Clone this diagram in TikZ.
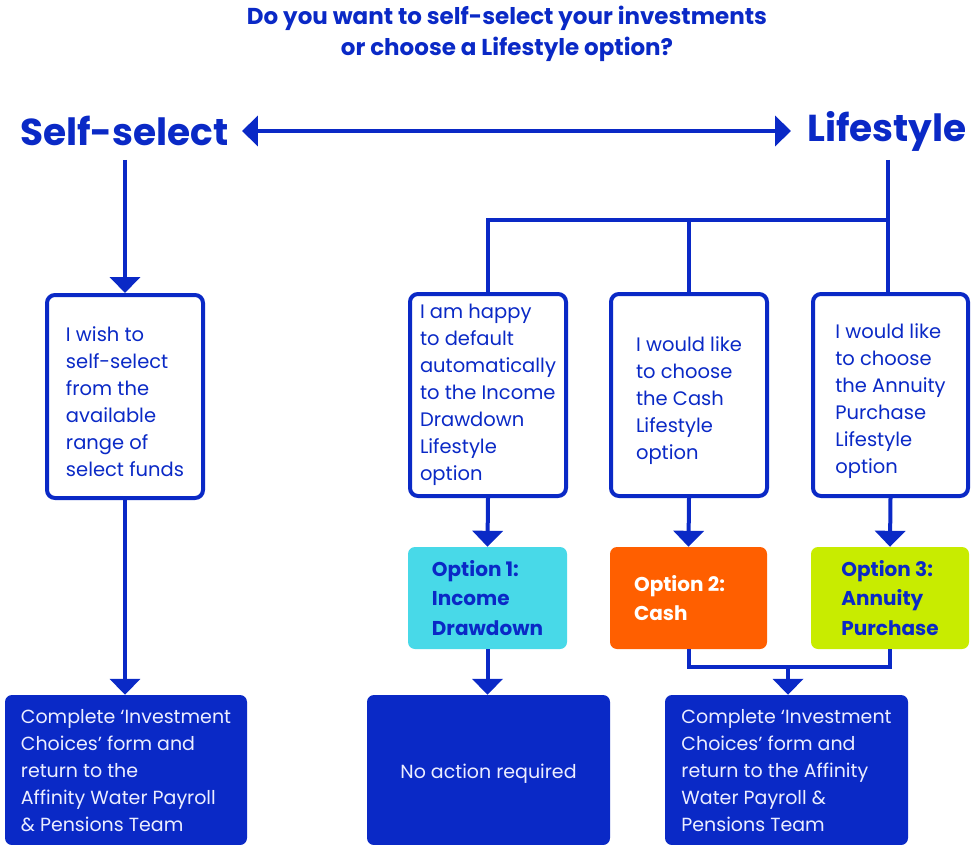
\documentclass[tikz,border=0pt]{standalone}
\usepackage{fontspec}
\setmainfont{Poppins}
\usetikzlibrary{arrows.meta}
\definecolor{brandblue}{HTML}{0A29C6}
\definecolor{lightfg}{HTML}{ECEEFF}
\definecolor{optcyan}{HTML}{48D9E8}
\definecolor{optorange}{HTML}{FF5F00}
\definecolor{optlime}{HTML}{C8EC00}
\tikzset{
  conn/.style={draw=brandblue, line width=4pt},
  arr/.style={conn, -{Triangle[width=30pt,length=16pt]}},
  darr/.style={conn, {Triangle[width=30pt,length=16pt]}-{Triangle[width=30pt,length=16pt]}},
  qbox/.style={draw=brandblue, line width=4pt, fill=white, rounded corners=8pt,
    minimum width=156pt, minimum height=202pt, inner sep=0pt},
  qtext/.style={inner sep=0pt, align=left, text=brandblue, font=\fontsize{19.5}{27}\selectfont},
  optbox/.style={rounded corners=7pt, minimum height=102pt, inner sep=0pt, align=left,
    font=\fontsize{20}{29.5}\selectfont\bfseries},
  endbox/.style={fill=brandblue, rounded corners=7pt, minimum height=150pt, inner sep=0pt},
  endtext/.style={inner sep=0pt, align=left, text=lightfg, font=\fontsize{19}{27}\selectfont},
  bigword/.style={text=brandblue, font=\fontsize{37.5}{44}\selectfont\bfseries, inner sep=0pt},
  titletext/.style={text=brandblue, font=\fontsize{23}{31}\selectfont\bfseries, align=center, inner sep=0pt}
}
\begin{document}
\begin{tikzpicture}[x=1pt,y=-1pt]
\useasboundingbox (0,0) rectangle (980,845);
\clip (0,0) rectangle (980,845);

\node[titletext] (title) at (507,34) {Do you want to self-select your investments\\or choose a Lifestyle option?};

\node[bigword] (ss) at (124.5,131) {Self-select};
\node[bigword] (ls) at (887,131) {Lifestyle};

\draw[darr] ([xshift=13pt]ss.east) -- ([xshift=-16pt]ls.west);

\node[qbox, minimum height=203pt] (b1) at (125,396.5) {};
\node[qbox] (b2) at (488,395) {};
\node[qbox] (b3) at (689,395) {};
\node[qbox, minimum width=155pt] (b4) at (890.5,395) {};

\node[qtext] (t1) at ([yshift=-5pt]b1.center) {I wish to\\self-select\\from the\\available\\range of\\select funds};
\node[qtext] (t2) at ([yshift=0pt]b2.center) {I am happy\\to default\\automatically\\to the Income\\Drawdown\\Lifestyle\\option};
\node[qtext] (t3) at ([yshift=-6pt]b3.center) {I would like\\to choose\\the Cash\\Lifestyle\\option};
\node[qtext] (t4) at ([yshift=-6pt]b4.center) {I would like\\to choose\\the Annuity\\Purchase\\Lifestyle\\option};

\node[optbox, fill=optcyan, text=brandblue, minimum width=159pt] (o1) at (487.5,598) {Option 1:\\Income\\Drawdown};
\node[optbox, fill=optorange, text=white, minimum width=157pt] (o2) at (688.5,598) {Option 2:\hspace*{18pt}\\Cash};
\node[optbox, fill=optlime, text=brandblue, minimum width=158pt] (o3) at (890,598) {Option 3:\\Annuity\\Purchase};

\node[endbox, minimum width=242pt] (e1) at (126,770) {};
\node[endbox, minimum width=243pt] (e2) at (488.5,770) {};
\node[endbox, minimum width=243pt] (e3) at (786.5,770) {};

\node[endtext] (u1) at ([yshift=-1pt]e1.center) {Complete ‘Investment\\Choices’ form and\\return to the\\Affinity Water Payroll\\\& Pensions Team};
\node[endtext] (u2) at ([yshift=-4pt]e2.center) {No action required};
\node[endtext] (u3) at ([yshift=-1pt]e3.center) {Complete ‘Investment\\Choices’ form and\\return to the Affinity\\Water Payroll \&\\Pensions Team};

\coordinate (ssb) at (125,160);
\coordinate (lsb) at (888,160);
\coordinate (jr) at (888,220);
\coordinate (m) at (788,667);

\draw[arr] (ssb) -- (ssb |- b1.north);
\draw[conn] (lsb) -- (lsb |- b4.north);
\draw[conn] (b2.north) |- (jr);
\draw[conn] (b3.north) -- (b3.north |- jr);

\draw[arr] (b1.south) -- (b1.south |- e1.north);
\draw[arr] (b2.south) -- (o1.north);
\draw[arr] (b3.south) -- (o2.north);
\draw[arr] (b4.south) -- (o3.north);
\draw[arr] (o1.south) -- (o1.south |- e2.north);
\draw[conn] (o2.south) |- (m) -| (o3.south);
\draw[arr] (m) -- (m |- e3.north);
\end{tikzpicture}
\end{document}
